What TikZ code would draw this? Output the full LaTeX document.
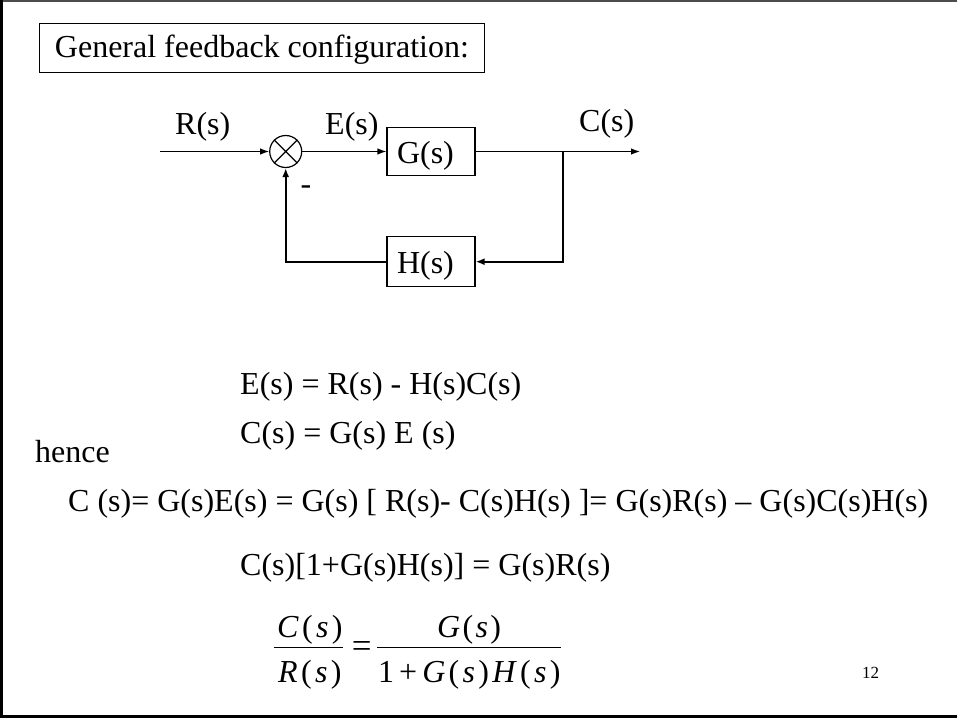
\documentclass[tikz,border=0pt]{standalone}
\usepackage{fontspec}
\setmainfont{Liberation Serif}
\usetikzlibrary{arrows.meta}
\newcommand\mtk{\kern3.3pt}
\begin{document}
\begin{tikzpicture}[x=1pt,y=-1pt,
  txt/.style={font=\fontsize{32}{38}\selectfont, inner sep=0pt, anchor=base west},
  blk/.style={draw, line width=1.2pt, minimum width=88pt, inner xsep=10pt, inner ysep=0pt,
    text width=68pt, align=left, text height=24pt, text depth=0pt, font=\fontsize{32}{38}\selectfont},
  fwd/.style={line width=1.2pt, -{Latex[length=9pt,width=6.5pt]}},
  fb/.style={line width=2pt, -{Latex[length=9pt,width=7pt]}},
  bar/.style={line width=1.2pt},
  ]
\useasboundingbox (0,0) rectangle (957,718);
% slide frame
\draw[line width=1.5pt, black!70] (0,0.8) -- (957,0.8);
\draw[line width=2.6pt] (1.3,0) -- (1.3,718);
\draw[line width=2.6pt] (0,716.7) -- (957,716.7);
% title
\node[draw, line width=0.9pt, font=\fontsize{32}{38}\selectfont, inner ysep=0pt, inner xsep=0pt,
  minimum width=445pt, text height=34pt, text depth=15pt, anchor=north west] (title) at (39,23)
  {General feedback configuration:};
% block diagram
\node[circle, draw, line width=1.2pt, minimum size=32pt, inner sep=0pt] (sum) at (285.7,151.5) {};
\draw[line width=1.2pt] (sum.north west) -- (sum.south east) (sum.north east) -- (sum.south west);
\node[blk, minimum height=48pt] (G) at (431,151.5) {G(s)};
\node[blk, minimum height=50pt] (H) at (431,261.7) {H(s)};
\coordinate (in) at (160,151.5);
\coordinate (out) at (640,151.5);
\coordinate (br) at (562.7,151.5);
\draw[fwd] (in) -- (sum.west);
\draw[fwd] (sum.east) -- (G.west);
\draw[fwd] (G.east) -- (out);
\draw[fb] (br) |- (H.east);
\draw[fb] (H.west) -| (sum.south);
\node[txt] (lR) at (175,134) {R(s)};
\node[txt] (lE) at (325,134) {E(s)};
\node[txt] (lC) at (579,131) {C(s)};
\node[txt, anchor=base] (minus) at (306,194) {-};
% equations
\node[txt] (eq1) at (240,394) {E(s) = R(s) - H(s)C(s)};
\node[txt] (eq2) at (240,443) {C(s) = G(s) E (s)};
\node[txt] (hence) at (35,462) {hence};
\node[txt] (eq3) at (68,511) {C (s)= G(s)E(s) = G(s) [ R(s)- C(s)H(s) ]= G(s)R(s) – G(s)C(s)H(s)};
\node[txt] (eq4) at (240,575) {C(s)[1+G(s)H(s)] = G(s)R(s)};
% fraction
\node[txt] (fn1) at (277,637) {\textit{C}\mtk(\mtk\textit{s}\mtk)};
\node[txt] (fd1) at (278,682) {\textit{R}\mtk(\mtk\textit{s}\mtk)};
\node[txt] (fn2) at (437,637) {\textit{G}\kern2.3pt(\kern2.3pt\textit{s}\kern2.3pt)};
\node[txt] (fd2) at (378,682) {1\kern5pt+\kern5pt\textit{G}\mtk(\mtk\textit{s}\mtk)\mtk\textit{H}\mtk(\mtk\textit{s}\mtk)};
\draw[bar] (274,647.5) -- (343,647.5);
\draw[bar] (377,647.5) -- (561,647.5);
\node[anchor=base, inner sep=0pt, font=\fontsize{35}{40}\selectfont] (eqs) at (361.7,657) {=};
% page number
\node[txt, font=\fontsize{17}{20}\selectfont] (pg) at (862,678) {12};
\end{tikzpicture}
\end{document}
